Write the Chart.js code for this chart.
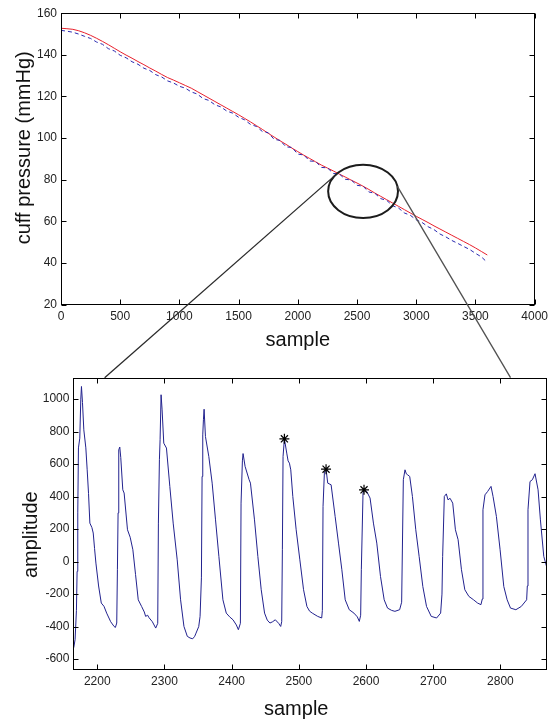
<!DOCTYPE html>
<html>
<head>
<meta charset="utf-8">
<script src="https://cdn.jsdelivr.net/npm/chart.js@4.4.1/dist/chart.umd.min.js"></script>
<style>
  html, body { margin: 0; padding: 0; background: #fff; }
  #wrap { position: relative; width: 553px; height: 719px; }
  #wrap canvas { position: absolute; left: 0; top: 0; }
</style>
</head>
<body>
<div id="wrap">
  <canvas id="cuffChart" width="553" height="719"></canvas>
  <canvas id="pulseChart" width="553" height="719"></canvas>
</div>
<script>
// top panel: cuff pressure during deflation
const cuffSamples = [0, 50, 100, 150, 200, 250, 300, 350, 400, 450, 500, 550, 600, 650, 700, 750,
  800, 850, 900, 950, 1000, 1050, 1100, 1150, 1200, 1250, 1300, 1350, 1400, 1450, 1500, 1550,
  1600, 1650, 1700, 1750, 1800, 1850, 1900, 1950, 2000, 2050, 2100, 2150, 2200, 2250, 2300, 2350,
  2400, 2450, 2500, 2550, 2600, 2650, 2700, 2750, 2800, 2850, 2900, 2950, 3000, 3050, 3100, 3150,
  3200, 3250, 3300, 3350, 3400, 3450, 3500, 3550, 3600];
const cuffFitted = [152.8, 152.6, 152.3, 151.6, 150.6, 149.4, 148.0, 146.5, 144.9, 143.2, 141.5, 139.9,
  138.4, 136.8, 135.3, 133.7, 132.2, 130.6, 129.1, 127.9, 126.6, 125.3, 124.0, 122.4, 120.8, 119.2,
  117.6, 116.0, 114.4, 112.8, 111.2, 109.5, 107.8, 106.0, 104.2, 102.3, 100.5, 98.7, 97.0, 95.2,
  93.5, 91.8, 90.2, 88.6, 87.0, 85.6, 84.2, 82.7, 81.3, 79.8, 78.4, 76.9, 75.3, 73.6, 72.0, 70.4,
  68.8, 67.2, 65.6, 64.0, 62.4, 60.9, 59.4, 57.8, 56.3, 54.8, 53.3, 51.8, 50.3, 48.8, 47.2, 45.5, 43.8];
const cuffMeasured = [151.8, 151.4, 150.9, 150.0, 148.9, 147.9, 146.2, 145.1, 143.0, 141.9, 139.8, 138.6,
  136.7, 135.5, 133.6, 132.5, 130.5, 129.4, 127.5, 126.5, 124.9, 124.0, 122.2, 121.2, 119.0, 118.1,
  116.0, 115.0, 113.0, 112.0, 110.0, 108.8, 106.6, 105.6, 103.2, 102.6, 99.4, 98.9, 95.8, 95.5,
  92.3, 91.9, 89.0, 88.8, 85.9, 85.7, 83.0, 82.8, 80.2, 79.9, 77.3, 76.9, 74.1, 73.5, 70.9, 70.1,
  67.5, 66.4, 64.0, 62.9, 60.7, 59.4, 57.4, 56.0, 53.9, 52.5, 50.8, 49.4, 47.9, 46.5, 44.6, 42.9, 40.2];
const cuffXTicks = [0, 500, 1000, 1500, 2000, 2500, 3000, 3500, 4000];
const cuffYTicks = [20, 40, 60, 80, 100, 120, 140, 160];

// bottom panel: oscillation amplitude, zoomed segment
const pulseSamples = [
  2165, 2167, 2169, 2170, 2171, 2172, 2174, 2175.5, 2176.5, 2178, 2180, 2183, 2185, 2187, 2189, 2192,
  2194, 2196, 2198, 2202, 2206, 2210, 2214, 2220, 2225, 2227, 2229,
  2230, 2231, 2232, 2233.5, 2235, 2238, 2240, 2245, 2249, 2253, 2257, 2261, 2266, 2270, 2272, 2275,
  2277, 2282, 2287, 2290,
  2291, 2292.5, 2293.5, 2295, 2296.5, 2299, 2303, 2308, 2313, 2319, 2324, 2329, 2334, 2338, 2342,
  2345, 2347, 2351, 2353,
  2355, 2356, 2357, 2358, 2359, 2361, 2366, 2371, 2376, 2381, 2387, 2392, 2397, 2402, 2407, 2410, 2413,
  2414, 2416, 2417, 2420, 2426, 2428, 2434, 2439, 2444, 2449, 2453, 2457, 2461, 2465, 2470, 2473, 2474.5,
  2475.5, 2476.5, 2478.5, 2482, 2484, 2486, 2488, 2491, 2496, 2501.5, 2507, 2512, 2516, 2520, 2528,
  2534, 2535,
  2536, 2538, 2540.5, 2543, 2548, 2554, 2559, 2564, 2569, 2575, 2582, 2587, 2590, 2592,
  2593, 2595.5, 2597, 2601, 2606, 2611, 2616, 2621.5, 2627, 2632, 2638, 2643, 2650, 2653,
  2655.5, 2658, 2660, 2662, 2665, 2669, 2674, 2679, 2684.5, 2690, 2697, 2705, 2711, 2713,
  2714, 2716.5, 2719.5, 2722, 2725, 2729, 2733, 2737, 2742, 2747, 2753, 2760, 2766, 2771, 2773,
  2774, 2777, 2781, 2786, 2789, 2794, 2799.5, 2805, 2810, 2815, 2823, 2831, 2839, 2840,
  2841, 2844, 2847.5, 2851.5, 2856, 2859.5, 2864.5, 2870];
const pulseAmplitude = [
  -530, -480, -300, -60, 300, 700, 760, 1000, 1078, 980, 811, 700, 565, 420, 237, 210,
  176, 80, -9, -150, -255, -275, -317, -370, -399, -405, -378,
  -50, 300, 688, 705, 640, 442, 422, 196, 150, 73, -80, -235, -276, -310, -337, -330,
  -345, -370, -409, -380,
  237, 627, 750, 1027, 934, 729, 699, 463, 237, 11, -235, -399, -460, -470, -475,
  -460, -440, -400, -337,
  -100, 524, 780, 873, 938, 770, 647, 483, 257, 32, -235, -317, -340, -358, -390, -419, -380,
  360, 620, 665, 586, 504, 483, 257, 32, -173, -317, -360, -378, -370, -358, -380, -399, -370,
  73, 647, 756, 668, 620, 606, 565, 401, 196, 11, -173, -276, -305, -317, -337,
  -347, -300,
  340, 545, 569, 483, 473, 278, 114, -50, -235, -296, -317, -340, -368, -330,
  -50, 422, 442, 432, 391, 237, 114, -91, -235, -286, -300, -306, -296, -250,
  504, 565, 540, 534, 524, 401, 196, 32, -153, -276, -337, -347, -317, -200,
  32, 401, 417, 380, 390, 360, 196, 135, -50, -173, -214, -235, -255, -265, -230,
  319, 411, 432, 463, 401, 278, 73, -153, -235, -286, -296, -276, -235, -150,
  319, 493, 504, 541, 442, 257, 32, -50];
const peakSamples = [2478.5, 2540.5, 2597];
const peakAmplitude = [756, 569, 442];
const pulseXTicks = [2200, 2300, 2400, 2500, 2600, 2700, 2800];
const pulseYTicks = [-600, -400, -200, 0, 200, 400, 600, 800, 1000];

const FONT = "'Liberation Sans', Arial, Helvetica, sans-serif";

function toPoints(xs, ys) {
  return xs.map((x, i) => ({ x: x, y: ys[i] }));
}

// MATLAB style box with inward ticks on all four sides
const matlabFrame = {
  id: "matlabFrame",
  afterDraw(chart) {
    const ctx = chart.ctx;
    const a = chart.chartArea;
    const xs = chart.scales.x;
    const ys = chart.scales.y;
    const l = Math.round(a.left) + 0.5, r = Math.round(a.right) - 0.5;
    const t = Math.round(a.top) + 0.5, b = Math.round(a.bottom) - 0.5;
    ctx.save();
    ctx.strokeStyle = "#000";
    ctx.lineWidth = 1;
    ctx.strokeRect(l, t, r - l, b - t);
    ctx.beginPath();
    xs.ticks.forEach(tk => {
      const p = Math.round(xs.getPixelForValue(tk.value)) + 0.5;
      ctx.moveTo(p, b); ctx.lineTo(p, b - 5);
      ctx.moveTo(p, t); ctx.lineTo(p, t + 5);
    });
    ys.ticks.forEach(tk => {
      const p = Math.round(ys.getPixelForValue(tk.value)) + 0.5;
      ctx.moveTo(l, p); ctx.lineTo(l + 5, p);
      ctx.moveTo(r, p); ctx.lineTo(r - 5, p);
    });
    ctx.stroke();
    ctx.restore();
  }
};

// zoom lens on the top panel (data units)
const lensX = 2551, lensY = 74.4, lensRX = 295, lensRY = 12.8;

function lensGeometry(chart) {
  const xs = chart.scales.x, ys = chart.scales.y;
  const cx = xs.getPixelForValue(lensX);
  const cy = ys.getPixelForValue(lensY);
  return {
    cx: cx, cy: cy,
    rx: xs.getPixelForValue(lensX + lensRX) - cx,
    ry: cy - ys.getPixelForValue(lensY + lensRY)
  };
}

const lensPlugin = {
  id: "lens",
  afterDraw(chart) {
    const g = lensGeometry(chart);
    const ctx = chart.ctx;
    ctx.save();
    ctx.strokeStyle = "#1c1c1c";
    ctx.lineWidth = 2;
    ctx.beginPath();
    ctx.ellipse(g.cx, g.cy, g.rx, g.ry, 0, 0, Math.PI * 2);
    ctx.stroke();
    ctx.restore();
  }
};

function axisX(min, max, ticks, titleText, titleHeight) {
  return {
    type: "linear",
    min: min,
    max: max,
    afterBuildTicks: s => { s.ticks = ticks.map(v => ({ value: v })); },
    afterFit: s => { s.height = titleHeight; },
    grid: { display: false, drawTicks: false },
    border: { display: false },
    ticks: {
      color: "#222", padding: 5, maxRotation: 0,
      font: { family: FONT, size: 12 },
      callback: v => String(v)
    },
    title: {
      display: true, text: titleText, color: "#111",
      padding: { top: 0, bottom: 0 }, font: { family: FONT, size: 20, lineHeight: 1 }
    }
  };
}

function axisY(min, max, ticks, titleText, width, titleLeft) {
  return {
    type: "linear",
    min: min,
    max: max,
    afterBuildTicks: s => { s.ticks = ticks.map(v => ({ value: v })); },
    afterFit: s => { s.width = width; },
    grid: { display: false, drawTicks: false },
    border: { display: false },
    ticks: {
      color: "#222", padding: 4,
      font: { family: FONT, size: 12 },
      callback: v => String(v)
    },
    title: {
      display: true, text: titleText, color: "#111",
      padding: { top: titleLeft, bottom: 0 }, font: { family: FONT, size: 20, lineHeight: 1 }
    }
  };
}

const cuffChart = new Chart("cuffChart", {
  type: "line",
  data: {
    datasets: [
      {
        label: "measured",
        data: toPoints(cuffSamples, cuffMeasured),
        borderColor: "#2a2ab0",
        borderWidth: 1,
        borderDash: [4, 3],
        pointRadius: 0,
        lineTension: 0,
        fill: false,
      },
      {
        label: "fitted",
        data: toPoints(cuffSamples, cuffFitted),
        borderColor: "#e8202c",
        borderWidth: 1,
        pointRadius: 0,
        lineTension: 0,
        fill: false,
      },
    ],
  },
  options: {
    responsive: false,
    animation: false,
    layout: { padding: { left: 0, top: 13.3, right: 17, bottom: 369 } },
    plugins: { legend: { display: false }, tooltip: { enabled: false } },
    scales: {
      x: axisX(0, 4000, cuffXTicks, "sample", 45.5),
      y: axisY(20, 160, cuffYTicks, "    cuff pressure (mmHg)", 61, 14.7),
    },
  },
  plugins: [matlabFrame, lensPlugin],
});

// lines from the lens down to the zoomed panel
const connectorPlugin = {
  id: "connector",
  afterDraw(chart) {
    const g = lensGeometry(cuffChart);
    const xs = chart.scales.x;
    const top = chart.chartArea.top;
    const ctx = chart.ctx;
    const leftAngle = -136.8 * Math.PI / 180;
    const rightAngle = -10.8 * Math.PI / 180;
    ctx.save();
    ctx.lineWidth = 1.3;
    ctx.strokeStyle = "#2a2a2a";
    ctx.beginPath();
    ctx.moveTo(g.cx + g.rx * Math.cos(leftAngle), g.cy + g.ry * Math.sin(leftAngle));
    ctx.lineTo(xs.getPixelForValue(2211), top);
    ctx.stroke();
    ctx.strokeStyle = "#505050";
    ctx.beginPath();
    ctx.moveTo(g.cx + g.rx * Math.cos(rightAngle), g.cy + g.ry * Math.sin(rightAngle));
    ctx.lineTo(xs.getPixelForValue(2815), top);
    ctx.stroke();
    ctx.restore();
  }
};

const pulseChart = new Chart("pulseChart", {
  type: "line",
  data: {
    datasets: [
      {
        label: "peaks",
        data: toPoints(peakSamples, peakAmplitude),
        showLine: false,
        pointStyle: "star",
        pointRadius: 5,
        borderColor: "#000",
        borderWidth: 1.2,
        backgroundColor: "#000",
      },
      {
        label: "amplitude",
        data: toPoints(pulseSamples, pulseAmplitude),
        borderColor: "#22228e",
        borderWidth: 1,
        pointRadius: 0,
        lineTension: 0,
        fill: false,
      },
    ],
  },
  options: {
    responsive: false,
    animation: false,
    layout: { padding: { left: 0, top: 377.7, right: 4.6, bottom: 0 } },
    plugins: { legend: { display: false }, tooltip: { enabled: false } },
    scales: {
      x: axisX(2164.5, 2869, pulseXTicks, "sample     ", 49.5),
      y: axisY(-664, 1132, pulseYTicks, "amplitude    ", 73.4, 21.7),
    },
  },
  plugins: [matlabFrame, connectorPlugin],
});
</script>
</body>
</html>
